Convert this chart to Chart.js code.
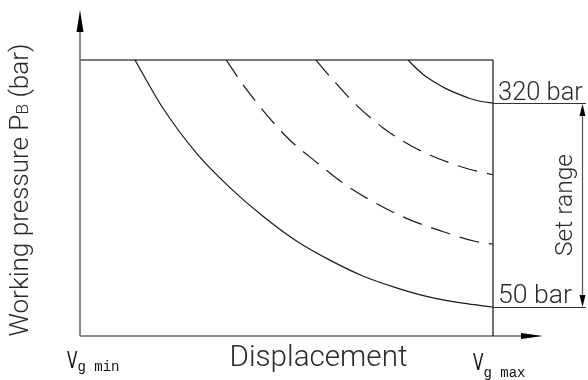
<!DOCTYPE html>
<html>
<head>
<meta charset="utf-8">
<script src="https://cdn.jsdelivr.net/npm/chart.js@4/dist/chart.umd.min.js"></script>
<style>
  html, body { margin: 0; padding: 0; background: #fff; }
  canvas { display: block; }
</style>
</head>
<body>
<canvas id="chart" width="588" height="380"></canvas>
<script>
// Displacement axis, % of Vg max (left edge = Vg min, right edge = Vg max)
const displacementRange = [0, 100];
// Pressure span covered by the plotting frame (bar)
const pressureRange = [11.6, 376.9];

// Set range end points of the pressure controller
const setRangeValues = [320, 50];
const setRangeLabels = ['320 bar', '50 bar'];

// Constant-power curves: displacement (%) and working pressure (bar)
const curveLowX  = [13.3, 20.1, 28.3, 36.3, 44.3, 52.5, 60.5, 68.5, 76.8, 84.7, 92.7, 100];
const curveLowY  = [377, 313, 253, 208, 170, 137, 112, 91, 75, 63, 55, 50];

const curveMid1X = [35.4, 39.5, 44.8, 50.6, 57.4, 64.2, 71.4, 79.2, 87.2, 95.6, 100];
const curveMid1Y = [377, 344, 307, 272, 241, 212, 188, 167, 151, 137, 133];

const curveMid2X = [57.1, 61.0, 66.6, 73.4, 80.6, 88.9, 93.9, 100];
const curveMid2Y = [377, 352, 319, 287, 262, 242, 233, 225];

const curveHighX = [79.4, 81.4, 83.5, 86.0, 88.6, 91.5, 94.4, 97.3, 100];
const curveHighY = [377, 366, 356, 347, 339, 332, 326, 322, 320];

// Axis and annotation texts
const xAxisTitle = 'Displacement';
const yAxisTitleParts = ['Working pressure P', 'B', ' (bar)'];
const setRangeTitle = 'Set range';
const vgLabels = [['V', 'g min'], ['V', 'g max']];

const TEXT_FONT = "'Roboto', 'Liberation Sans', sans-serif";
const TEXT_COLOR = '#2a2a2a';

function pts(xs, ys) { return xs.map((x, i) => ({ x, y: ys[i] })); }

function curve(xs, ys, dashed) {
  return {
    data: pts(xs, ys),
    borderColor: '#1a1a1a',
    borderWidth: 1.2,
    borderDash: dashed ? [20, 10] : [],
    pointRadius: 0,
    fill: false,
    cubicInterpolationMode: 'monotone'
  };
}

function setFont(ctx, size, weight) {
  ctx.font = `${weight || 300} ${size}px ${TEXT_FONT}`;
}

// font size that makes a text run the given width
function fitSize(ctx, text, width) {
  setFont(ctx, 100);
  return 100 * width / ctx.measureText(text).width;
}

function line(ctx, x1, y1, x2, y2) {
  ctx.beginPath(); ctx.moveTo(x1, y1); ctx.lineTo(x2, y2); ctx.stroke();
}

function tri(ctx, a, b, c) {
  ctx.beginPath(); ctx.moveTo(a[0], a[1]); ctx.lineTo(b[0], b[1]); ctx.lineTo(c[0], c[1]);
  ctx.closePath(); ctx.fill();
}

// Frame, axis arrows, set-range dimension and all texts
const diagramDecor = {
  id: 'diagramDecor',
  beforeDatasetsDraw(chart) {
    const { ctx, chartArea: a } = chart;
    ctx.save();
    // frame top edge
    ctx.strokeStyle = '#7a7a7a';
    ctx.lineWidth = 2;
    line(ctx, a.left, a.top, a.right, a.top);
    // left and bottom axes with arrows
    ctx.lineWidth = 1.6;
    ctx.strokeStyle = '#6a6a6a';
    line(ctx, a.left, a.bottom, a.left, a.top - 30);
    line(ctx, a.left, a.bottom, a.right + 30, a.bottom);
    ctx.fillStyle = '#000';
    tri(ctx, [a.left, a.top - 50], [a.left - 3.5, a.top - 28], [a.left + 3.5, a.top - 28]);
    tri(ctx, [a.right + 50, a.bottom], [a.right + 28, a.bottom - 3], [a.right + 28, a.bottom + 3]);
    // frame right edge (Vg max)
    ctx.strokeStyle = '#111';
    ctx.lineWidth = 1.2;
    line(ctx, a.right, a.top, a.right, a.bottom);
    ctx.restore();
  },
  afterDraw(chart) {
    const { ctx, chartArea: a, scales } = chart;
    const y = scales.y;
    const yHi = Math.round(y.getPixelForValue(setRangeValues[0]));
    const yLo = Math.round(y.getPixelForValue(setRangeValues[1]));
    ctx.save();

    // extension lines at the set range limits
    ctx.strokeStyle = '#333';
    ctx.lineWidth = 1.2;
    line(ctx, a.right, yHi + 0.5, a.right + 93, yHi + 0.5);
    line(ctx, a.right, yLo + 0.5, a.right + 93, yLo + 0.5);

    // set range dimension arrow
    const ax = a.right + 89.5;
    ctx.strokeStyle = '#555';
    ctx.lineWidth = 1.2;
    line(ctx, ax, yHi + 6, ax, yLo - 6);
    ctx.fillStyle = '#000';
    tri(ctx, [ax, yHi + 1], [ax - 3, yHi + 13], [ax + 3, yHi + 13]);
    tri(ctx, [ax, yLo], [ax - 3, yLo - 12], [ax + 3, yLo - 12]);

    ctx.fillStyle = TEXT_COLOR;
    ctx.textAlign = 'left';
    ctx.textBaseline = 'alphabetic';

    // limit labels
    setFont(ctx, fitSize(ctx, setRangeLabels[0], 85));
    ctx.fillText(setRangeLabels[0], a.right + 5, yHi - 3);
    setFont(ctx, fitSize(ctx, setRangeLabels[1], 74));
    ctx.fillText(setRangeLabels[1], a.right + 5, yLo - 4);

    // "Set range"
    ctx.save();
    ctx.translate(a.right + 79, (yHi + yLo) / 2);
    ctx.rotate(-Math.PI / 2);
    ctx.textAlign = 'center';
    setFont(ctx, fitSize(ctx, setRangeTitle, 102));
    ctx.fillText(setRangeTitle, 0, 0);
    ctx.restore();

    // x-axis title
    ctx.textAlign = 'center';
    setFont(ctx, fitSize(ctx, xAxisTitle, 178));
    ctx.fillText(xAxisTitle, 318.5, a.bottom + 30);

    // y-axis title with subscript
    ctx.save();
    ctx.translate(28, 190);
    ctx.rotate(-Math.PI / 2);
    ctx.textAlign = 'left';
    setFont(ctx, 24);
    let w0 = ctx.measureText(yAxisTitleParts[0]).width;
    let w2 = ctx.measureText(yAxisTitleParts[2]).width;
    setFont(ctx, 16);
    let w1 = ctx.measureText(yAxisTitleParts[1]).width;
    const k = 293 / (w0 + w1 + w2);
    const mainSize = 24 * k, subSize = 16 * k;
    w0 *= k; w1 *= k; w2 *= k;
    const x0 = -(w0 + w1 + w2) / 2;
    setFont(ctx, mainSize);
    ctx.fillText(yAxisTitleParts[0], x0, 0);
    setFont(ctx, subSize);
    ctx.fillText(yAxisTitleParts[1], x0 + w0, 0);
    setFont(ctx, mainSize);
    ctx.fillText(yAxisTitleParts[2], x0 + w0 + w1, 0);
    ctx.restore();

    // Vg min / Vg max
    ctx.textAlign = 'left';
    ctx.fillStyle = '#111';
    const vgX = [a.left - 13, a.right - 20];
    const vgBase = [368, 370];
    const subBase = [371, 377];
    vgLabels.forEach((lab, i) => {
      ctx.save();
      ctx.translate(vgX[i], vgBase[i]);
      ctx.scale(0.66, 1);
      ctx.font = "23px 'DejaVu Sans', sans-serif";
      ctx.fillText(lab[0], 0, 0);
      ctx.restore();
      ctx.font = "14px 'Liberation Mono', 'DejaVu Sans Mono', monospace";
      ctx.fillText(lab[1], vgX[i] + 10.5, subBase[i]);
    });

    ctx.restore();
  }
};

new Chart(document.getElementById('chart'), {
  type: 'line',
  data: {
    datasets: [
      curve(curveLowX, curveLowY, false),
      curve(curveMid1X, curveMid1Y, true),
      curve(curveMid2X, curveMid2Y, true),
      curve(curveHighX, curveHighY, false)
    ]
  },
  options: {
    responsive: false,
    devicePixelRatio: 1,
    animation: false,
    layout: { padding: { left: 80, top: 60, right: 95, bottom: 44 } },
    plugins: { legend: { display: false }, tooltip: { enabled: false } },
    scales: {
      x: { type: 'linear', min: displacementRange[0], max: displacementRange[1], display: false },
      y: { type: 'linear', min: pressureRange[0], max: pressureRange[1], display: false }
    }
  },
  plugins: [diagramDecor]
});
</script>
</body>
</html>
